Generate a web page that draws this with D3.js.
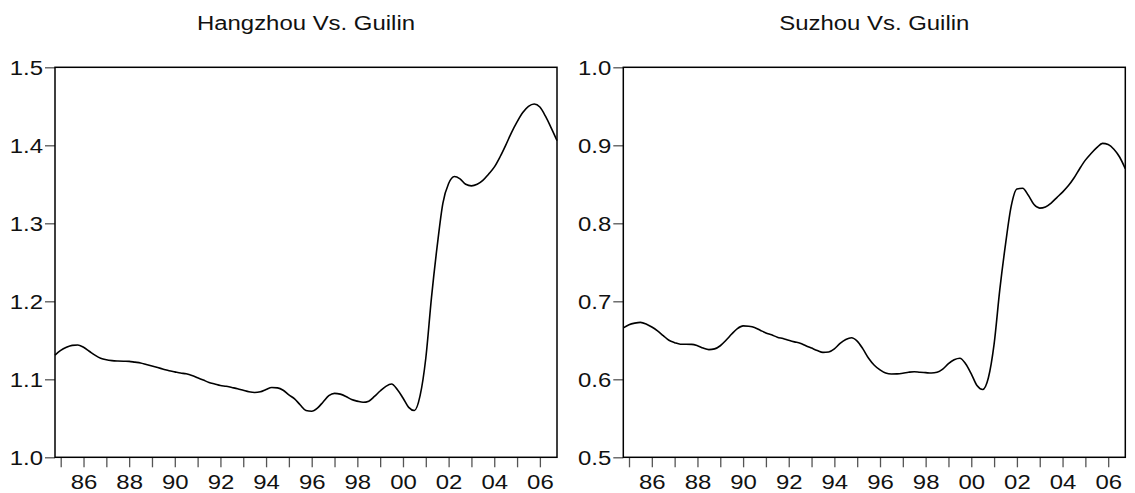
<!DOCTYPE html>
<html>
<head>
<meta charset="utf-8">
<script src="https://cdn.jsdelivr.net/npm/d3@7"></script>
<style>
  body { margin: 0; background: #fff; }
  svg { display: block; font-family: "Liberation Sans", Arial, sans-serif; }
</style>
</head>
<body>
<svg id="chart" width="1135" height="493"></svg>
<script>
// quarterly observations, 1984Q4 .. 2006Q4
const firstQuarter = 1984.75;
const yearTicks = d3.range(1985, 2007);
const titles = ["Hangzhou Vs. Guilin", "Suzhou Vs. Guilin"];

const hangzhou = [
  1.131, 1.137, 1.141, 1.1435, 1.144, 1.141, 1.136, 1.131, 1.127, 1.125,
  1.124, 1.1235, 1.1232, 1.123, 1.122, 1.121, 1.119, 1.117, 1.115, 1.113,
  1.111, 1.1095, 1.108, 1.107, 1.105, 1.102, 1.099, 1.096, 1.094, 1.092,
  1.091, 1.0895, 1.088, 1.086, 1.084, 1.083, 1.084, 1.087, 1.0895, 1.089,
  1.086, 1.080, 1.075, 1.067, 1.060, 1.059, 1.063, 1.071, 1.079, 1.082,
  1.081, 1.078, 1.074, 1.072, 1.0705, 1.072, 1.078, 1.085, 1.091, 1.094,
  1.087, 1.076, 1.064, 1.060, 1.079, 1.127, 1.205, 1.271, 1.326, 1.351,
  1.360, 1.357, 1.350, 1.348, 1.350, 1.355, 1.363, 1.372, 1.385, 1.400,
  1.416, 1.430, 1.442, 1.450, 1.453, 1.449, 1.437, 1.422, 1.406
];

const suzhou = [
  0.666, 0.670, 0.672, 0.673, 0.671, 0.667, 0.662, 0.656, 0.650, 0.647,
  0.645, 0.645, 0.6448, 0.643, 0.640, 0.638, 0.639, 0.643, 0.650, 0.658,
  0.665, 0.6685, 0.668, 0.6665, 0.663, 0.6595, 0.657, 0.654, 0.6522, 0.650,
  0.648, 0.6463, 0.643, 0.640, 0.637, 0.6345, 0.635, 0.639, 0.646, 0.651,
  0.6533, 0.649, 0.639, 0.627, 0.618, 0.612, 0.608, 0.6068, 0.607, 0.6078,
  0.609, 0.6097, 0.609, 0.6085, 0.608, 0.609, 0.613, 0.620, 0.625, 0.627,
  0.620, 0.607, 0.592, 0.587, 0.602, 0.645, 0.715, 0.773, 0.822, 0.844,
  0.845, 0.836, 0.824, 0.8195, 0.821, 0.826, 0.833, 0.840, 0.848, 0.858,
  0.870, 0.881, 0.8895, 0.897, 0.9025, 0.901, 0.895, 0.885, 0.870
];

const hangzhouTicks = [1.0, 1.1, 1.2, 1.3, 1.4, 1.5];
const suzhouTicks = [0.5, 0.6, 0.7, 0.8, 0.9, 1.0];

const stretch = 1.14; // the original glyphs are a bit wider than Arial

const svg = d3.select("#chart");

panel({ left: 55, title: titles[0], values: hangzhou, yTicks: hangzhouTicks });
panel({ left: 623.3, title: titles[1], values: suzhou, yTicks: suzhouTicks });

function panel({ left, title, values, yTicks, width = 502, top = 67.3, bottom = 457.3 }) {
  const data = values.map((v, i) => ({ t: firstQuarter + i * 0.25, v }));

  const x = d3.scaleLinear()
    .domain([firstQuarter, firstQuarter + (values.length - 1) * 0.25])
    .range([left, left + width]);

  const y = d3.scaleLinear()
    .domain(d3.extent(yTicks))
    .range([bottom, top]);

  const g = svg.append("g");

  // title
  g.append("text")
    .attr("transform", `translate(${left + width / 2},30) scale(${stretch},1)`)
    .attr("text-anchor", "middle")
    .attr("font-size", 21)
    .attr("fill", "#111")
    .text(title);

  // y axis
  g.append("g")
    .attr("transform", `translate(${left},0)`)
    .call(d3.axisLeft(y).tickValues(yTicks).tickFormat(d3.format(".1f")).tickSize(10).tickPadding(2))
    .call(a => a.select(".domain").remove())
    .call(a => a.selectAll(".tick line").attr("stroke", "#555").attr("stroke-width", 1.3))
    .call(a => a.selectAll(".tick text")
      .attr("font-size", 21)
      .attr("fill", "#111")
      .attr("dy", "0.36em")
      .attr("transform", `scale(${stretch},1)`)
      .attr("x", -12 / stretch));

  // x axis, a tick every year, labels on even years
  g.append("g")
    .attr("transform", `translate(0,${bottom})`)
    .call(d3.axisBottom(x).tickValues(yearTicks)
      .tickFormat(d => d % 2 === 0 ? String(d).slice(2) : "")
      .tickSize(10).tickPadding(7))
    .call(a => a.select(".domain").remove())
    .call(a => a.selectAll(".tick line").attr("stroke", "#555").attr("stroke-width", 1.3))
    .call(a => a.selectAll(".tick text")
      .attr("font-size", 21)
      .attr("fill", "#111")
      .attr("transform", `scale(${stretch},1)`));

  // frame
  g.append("rect")
    .attr("x", left)
    .attr("y", top)
    .attr("width", width)
    .attr("height", bottom - top)
    .attr("fill", "none")
    .attr("stroke", "#000")
    .attr("stroke-width", 1.5);

  const line = d3.line().curve(d3.curveMonotoneX).x(d => x(d.t)).y(d => y(d.v));
  g.append("path")
    .datum(data)
    .attr("fill", "none")
    .attr("stroke", "#000")
    .attr("stroke-width", 1.6)
    .attr("d", line);
}
</script>
</body>
</html>
